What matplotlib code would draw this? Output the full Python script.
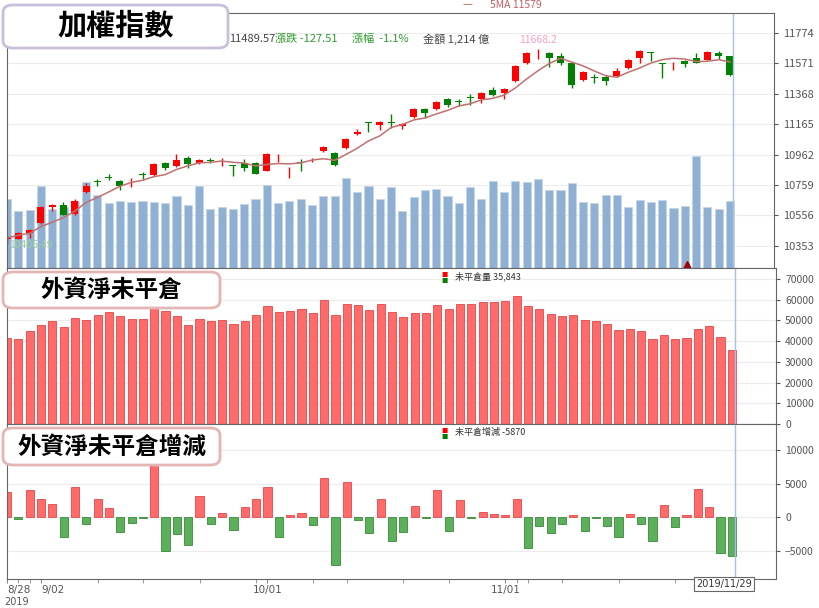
import numpy as np
import pandas as pd
from matplotlib import pyplot as plt
from matplotlib.patches import FancyBboxPatch

plt.rcParams['font.family'] = ['Noto Sans CJK TC', 'DejaVu Sans']

#   daily TAIEX candles 2019/08/28 - 2019/11/29
opens = [10400, 10401, 10441, 10507, 10614, 10627, 10567, 10714, 10785, 10810,
         10787, 10778, 10830, 10827, 10907, 10887, 10941, 10907, 10923, 10912,
         10890, 10907, 10907, 10854, 10945, 10872, 10910, 10925, 10987, 10974,
         11007, 11101, 11176, 11161, 11176, 11154, 11214, 11267, 11267, 11334,
         11316, 11343, 11334, 11394, 11374, 11454, 11574, 11645, 11641, 11621,
         11574, 11461, 11476, 11481, 11487, 11541, 11607, 11643, 11569, 11565,
         11587, 11607, 11594, 11641, 11617]
highs = [10427, 10447, 10465, 10620, 10630, 10647, 10665, 10774, 10800, 10830,
         10795, 10807, 10847, 10905, 10912, 10967, 10954, 10930, 10941, 10941,
         10890, 10934, 10912, 10970, 10967, 10876, 10934, 10941, 11020, 10980,
         11075, 11134, 11178, 11185, 11234, 11175, 11272, 11274, 11320, 11341,
         11334, 11367, 11380, 11414, 11405, 11560, 11647, 11668, 11645, 11641,
         11580, 11520, 11501, 11490, 11541, 11600, 11660, 11645, 11570, 11581,
         11592, 11641, 11652, 11654, 11620]
lows = [10361, 10395, 10407, 10500, 10587, 10555, 10560, 10705, 10754, 10794,
        10727, 10747, 10800, 10820, 10861, 10880, 10874, 10900, 10907, 10887,
        10821, 10854, 10830, 10850, 10914, 10807, 10854, 10914, 10982, 10887,
        11000, 11094, 11114, 11128, 11141, 11134, 11208, 11207, 11260, 11280,
        11287, 11294, 11307, 11355, 11334, 11448, 11568, 11601, 11547, 11561,
        11407, 11455, 11441, 11427, 11480, 11535, 11574, 11587, 11474, 11527,
        11547, 11570, 11590, 11601, 11487]
closes = [10405, 10441, 10461, 10614, 10627, 10561, 10654, 10754, 10781, 10807,
          10754, 10781, 10827, 10901, 10874, 10927, 10901, 10927, 10921, 10914,
          10887, 10874, 10834, 10967, 10947, 10874, 10907, 10927, 11014, 10894,
          11067, 11114, 11174, 11181, 11174, 11167, 11267, 11241, 11314, 11294,
          11314, 11341, 11374, 11361, 11401, 11554, 11641, 11647, 11607, 11574,
          11427, 11514, 11474, 11454, 11521, 11594, 11654, 11641, 11567, 11567,
          11567, 11574, 11647, 11621, 11490]
#   turnover (億)
volume = [1244, 1033, 1051, 1492, 1063, 1111, 1214, 1552, 1323, 1172,
          1214, 1202, 1214, 1202, 1172, 1311, 1148, 1492, 1063, 1105,
          1063, 1160, 1250, 1504, 1172, 1214, 1244, 1148, 1311, 1311,
          1625, 1377, 1492, 1244, 1474, 1033, 1280, 1407, 1431, 1311,
          1172, 1474, 1256, 1570, 1377, 1582, 1564, 1607, 1419, 1419,
          1540, 1202, 1172, 1323, 1323, 1099, 1238, 1190, 1226, 1093,
          1129, 2023, 1099, 1063, 1214]
#   foreign net open interest (lots)
open_interest = [41400, 41100, 45000, 47600, 49800, 46600, 51100, 50300, 52700, 54200,
                 51900, 50800, 50800, 58500, 54700, 51900, 47600, 50800, 49800, 50200,
                 48400, 49800, 52700, 57100, 54200, 54700, 55300, 53700, 59700, 52700,
                 57900, 57600, 54800, 57900, 54200, 51800, 53700, 53700, 57600, 55300,
                 57900, 57900, 58700, 59000, 59400, 61900, 57100, 55600, 53200, 51900,
                 52400, 50300, 49800, 48400, 45500, 45800, 44700, 41100, 42900, 41100,
                 41500, 45800, 47300, 41800, 35843]
oi_change = [3800, -350, 4100, 2700, 2000, -3000, 4500, -1100, 2700, 1400,
             -2200, -900, -100, 8000, -5000, -2500, -4200, 3100, -1000, 550,
             -2000, 1500, 2650, 4500, -3000, 350, 650, -1200, 5900, -7100,
             5300, -450, -2350, 2650, -3500, -2300, 1650, -100, 4100, -2150,
             2600, -100, 750, 450, 250, 2750, -4650, -1400, -2400, -1100,
             250, -2100, -200, -1400, -3050, 450, -1100, -3600, 1750, -1500,
             350, 4200, 1550, -5400, -5870]
price_ticks = [10353, 10556, 10759, 10962, 11165, 11368, 11571, 11774]
date_ticks = {0: '8/28', 3: '9/02', 23: '10/01', 44: '11/01'}
week_ticks = [1, 2, 3, 8, 12, 17, 22, 23, 27, 30, 35, 39, 44, 45, 46, 49, 54, 59]

n = len(closes)
x = np.arange(n)
opens, highs, lows, closes = map(np.array, (opens, highs, lows, closes))
ma5 = pd.Series(closes).rolling(5, min_periods=1).mean()

W, H = 820, 608
fig = plt.figure(figsize=(W / 100, H / 100), dpi=100)


def rect(l, t, r, b):
    return [l / W, 1 - b / H, (r - l) / W, (b - t) / H]


xlim = (0, 67.9)
grid_c = '#ececec'
tick_c = '#555555'
red, green = '#ff0000', '#008000'

#   ---- top panel: volume behind, candles on top
axv = fig.add_axes(rect(7, 13, 774, 268))
axv.bar(x, volume, width=0.72, color='#8fb0d3', edgecolor='#c5d6e8', linewidth=0.6)
axv.set_xlim(*xlim)
axv.set_ylim(0, 4620)
axv.axis('off')

ax = fig.add_axes(rect(7, 13, 774, 268))
ax.set_facecolor('none')
ax.set_xlim(*xlim)
ax.set_ylim(10204, 11907)
for t in price_ticks:
    axv.axhline((t - 10204) / (11907 - 10204) * 4620, color=grid_c, lw=0.8, zorder=0)
up = closes >= opens
for i in x:
    c = red if up[i] else green
    ax.vlines(i, lows[i], highs[i], color=c, lw=1)
    body = max(abs(closes[i] - opens[i]), 3)
    ax.bar(i, body, bottom=min(opens[i], closes[i]), width=0.62, color=c, edgecolor='none')
ax.plot(x, ma5, color='#c07070', lw=1.1)
ax.yaxis.tick_right()
ax.set_yticks(price_ticks)
ax.tick_params(axis='y', labelsize=8, colors=tick_c, length=3)
ax.tick_params(axis='x', bottom=False, labelbottom=False)
for s in ax.spines.values():
    s.set_color('#666666')
ax.axvline(64.3, color='#a8c0e8', lw=1)
ax.text(47, 11690, '11668.2', color='#f6a0c0', fontsize=7.5, ha='center', va='bottom')
ax.text(0.2, 10392, '10406.49', color='#9ccf9c', fontsize=7.5, va='top')
ax.plot(60.2, 10225, marker='^', color='#a00000', ms=6)

fig.text(462 / W, 1 - 5 / H, '—', color='#c06060', fontsize=8, va='center')
fig.text(490 / W, 1 - 5 / H, '5MA 11579', color='#c06060', fontsize=7.5, va='center')
fig.text(229 / W, 1 - 39 / H, '11489.57', color='#444444', fontsize=8, va='center')
fig.text(275 / W, 1 - 39 / H, '漲跌 -127.51', color='#2e9a2e', fontsize=8, va='center')
fig.text(352 / W, 1 - 39 / H, '漲幅  -1.1%', color='#2e9a2e', fontsize=8, va='center')
fig.text(423 / W, 1 - 39 / H, '金額 1,214 億', color='#444444', fontsize=8, va='center')

#   ---- middle panel: open interest
ax2 = fig.add_axes(rect(7, 268, 776, 424))
ax2.bar(x, open_interest, width=0.72, color='#ff6b6b', edgecolor='#e04848', linewidth=0.6)
ax2.set_xlim(*xlim)
ax2.set_ylim(0, 75300)
ax2.set_yticks(range(0, 70001, 10000))
ax2.yaxis.tick_right()
ax2.tick_params(axis='y', labelsize=7.5, colors=tick_c, length=3)
ax2.tick_params(axis='x', bottom=False, labelbottom=False)
ax2.grid(axis='y', color=grid_c, lw=0.8)
ax2.set_axisbelow(True)
ax2.axvline(64.3, color='#a8c0e8', lw=1)
for s in ax2.spines.values():
    s.set_color('#666666')
fig.text(441 / W, 1 - 275 / H, '■', color=red, fontsize=4.5, va='center')
fig.text(441 / W, 1 - 281 / H, '■', color=green, fontsize=4.5, va='center')
fig.text(455 / W, 1 - 276 / H, '未平倉量 35,843', color='#333333', fontsize=6.5, va='center')

#   ---- bottom panel: daily change of open interest
ax3 = fig.add_axes(rect(7, 424, 776, 579))
cols = ['#ff6b6b' if v >= 0 else '#5cb05c' for v in oi_change]
edges = ['#e04848' if v >= 0 else '#3a8a3a' for v in oi_change]
ax3.bar(x, oi_change, width=0.72, color=cols, edgecolor=edges, linewidth=0.6)
ax3.set_xlim(*xlim)
ax3.set_ylim(-9250, 13900)
ax3.set_yticks([-5000, 0, 5000, 10000])
ax3.yaxis.tick_right()
ax3.tick_params(axis='y', labelsize=7.5, colors=tick_c, length=3)
ax3.grid(axis='y', color=grid_c, lw=0.8)
ax3.set_axisbelow(True)
ax3.axvline(64.3, color='#a8c0e8', lw=1)
for s in ax3.spines.values():
    s.set_color('#666666')
ax3.set_xticks(week_ticks, minor=True)
ax3.set_xticks(list(date_ticks))
ax3.set_xticklabels(list(date_ticks.values()), fontsize=7.5, color=tick_c, family='DejaVu Sans')
for lab, ha in zip(ax3.get_xticklabels(), ['left', 'left', 'center', 'center']):
    lab.set_ha(ha)
ax3.tick_params(axis='x', which='both', length=3, color='#888888', pad=1)
fig.text(4 / W, 1 - 602 / H, '2019', fontsize=7, color=tick_c, va='center', family='DejaVu Sans')
fig.text(724 / W, 1 - 584 / H, '2019/11/29', fontsize=7, color='#333333', ha='center', va='center',
         family='DejaVu Sans', bbox=dict(boxstyle='square,pad=0.25', fc='white', ec='#666666', lw=0.8))
fig.text(441 / W, 1 - 431 / H, '■', color=red, fontsize=4.5, va='center')
fig.text(441 / W, 1 - 437 / H, '■', color=green, fontsize=4.5, va='center')
fig.text(455 / W, 1 - 432 / H, '未平倉增減 -5870', color='#333333', fontsize=6.5, va='center')

#   ---- title boxes
def title_box(l, t, r, b, label, edge, size):
    box = FancyBboxPatch((l / W, 1 - b / H), (r - l) / W, (b - t) / H,
                         boxstyle='round,pad=0,rounding_size=0.012', transform=fig.transFigure,
                         fc='white', ec=edge, lw=2, zorder=10)
    fig.add_artist(box)
    fig.text((l + r) / 2 / W, 1 - (t + b) / 2 / H, label, fontsize=size, fontweight='bold',
             ha='center', va='center', zorder=11)


title_box(3, 5, 228, 48, '加權指數', '#c9bfdc', 21)
title_box(3, 272, 220, 308, '外資淨未平倉', '#e3b5b5', 17)
title_box(3, 428, 220, 465, '外資淨未平倉增減', '#e3b5b5', 17)

plt.savefig('out.png', dpi=100)
